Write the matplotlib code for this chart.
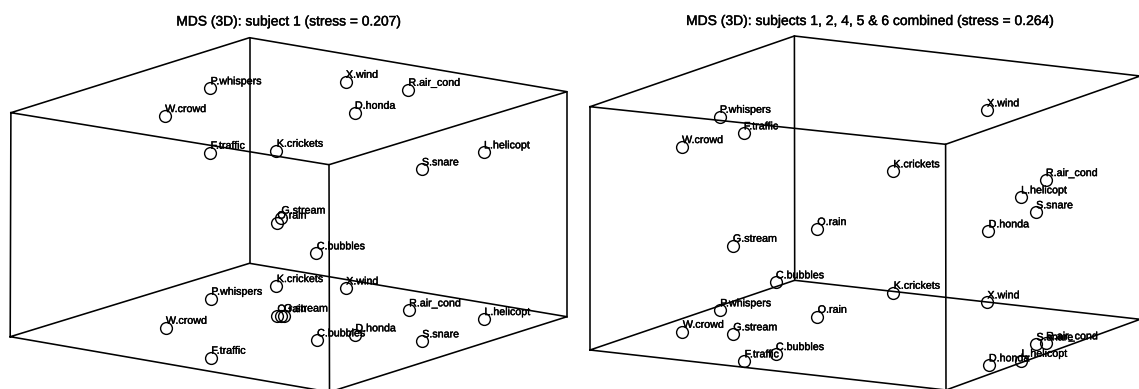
import matplotlib
matplotlib.use('Agg')
import matplotlib.pyplot as plt
import matplotlib.patheffects as pe

plt.rcParams['font.family'] = ['Liberation Sans', 'DejaVu Sans']

# sound labels, same order for the upper and lower point sets
labels = ['P.whispers', 'W.crowd', 'F.traffic', 'K.crickets', 'X.wind', 'R.air_cond',
          'D.honda', 'S.snare', 'L.helicopt', 'C.bubbles', 'O.rain', 'G.stream']

# subject 1, read in picture pixels
s1_upper_x = [210.2, 164.7, 210.2, 276.4, 345.5, 408.0, 354.5, 421.5, 483.6, 316.4, 277.0, 281.0]
s1_upper_y = [88.3, 116.0, 152.7, 150.7, 81.7, 89.7, 112.7, 169.3, 152.3, 253.3, 222.5, 217.5]
s1_lower_x = [210.9, 165.5, 210.9, 276.4, 345.8, 408.7, 355.0, 421.8, 484.0, 316.7, 277.0, 283.5]
s1_lower_y = [298.7, 327.7, 357.7, 286.0, 288.3, 310.3, 335.3, 341.3, 319.0, 340.3, 316.0, 315.5]
s1_extra_x = [280.5]
s1_extra_y = [315.5]
s1_box_top_x = [10.9, 249.5, 567.0, 329.0]
s1_box_top_y = [112.7, 37.7, 91.7, 164.7]
s1_box_bot_x = [10.2, 249.5, 567.0, 329.5]
s1_box_bot_y = [336.7, 263.3, 316.7, 392.0]

# subjects combined
all_upper_x = [719.5, 681.6, 743.5, 892.9, 986.7, 1045.5, 988.2, 1035.7, 1020.7, 775.5, 816.9, 732.5]
all_upper_y = [116.7, 147.0, 133.3, 171.3, 110.3, 180.0, 231.3, 212.3, 197.3, 282.3, 229.0, 245.7]
all_lower_x = [719.8, 682.4, 744.2, 893.3, 987.0, 1045.7, 988.5, 1036.0, 1021.0, 775.5, 817.3, 732.9]
all_lower_y = [310.3, 331.7, 361.3, 292.7, 302.3, 343.3, 365.3, 344.3, 360.7, 354.0, 316.7, 334.3]
all_box_top_x = [590.0, 794.4, 1140.2, 945.6]
all_box_top_y = [106.7, 36.0, 76.0, 144.3]
all_box_bot_x = [590.0, 794.7, 1140.2, 946.0]
all_box_bot_y = [350.0, 280.3, 319.3, 390.0]

s1_title = 'MDS (3D): subject 1 (stress = 0.207)'
all_title = 'MDS (3D): subjects 1, 2, 4, 5 & 6 combined (stress = 0.264)'

# the scan makes the text look a bit heavier
heavy = [pe.withStroke(linewidth=0.3, foreground='black')]


def draw_box(ax, top_x, top_y, bot_x, bot_y):
    ax.plot(top_x + top_x[:1], top_y + top_y[:1], color='black', lw=1.15)
    ax.plot(bot_x + bot_x[:1], bot_y + bot_y[:1], color='black', lw=1.15)
    for i in range(4):
        ax.plot([top_x[i], bot_x[i]], [top_y[i], bot_y[i]], color='black', lw=1.15)


def draw_points(ax, xs, ys):
    ax.plot(xs, ys, 'o', color='black', mfc='none', ms=8.5, mew=1.0, ls='none')
    for name, x, y in zip(labels, xs, ys):
        ax.annotate(name, (x, y), xytext=(0.3, 5), textcoords='offset points',
                    fontsize=7.7, va='center', ha='left', color='black',
                    path_effects=heavy)


fig = plt.figure(figsize=(11.39, 3.89), dpi=100)
ax = fig.add_axes([0, 0, 1, 1])
ax.set_xlim(0, 1139)
ax.set_ylim(389, 0)
ax.axis('off')

draw_box(ax, s1_box_top_x, s1_box_top_y, s1_box_bot_x, s1_box_bot_y)
draw_points(ax, s1_upper_x, s1_upper_y)
draw_points(ax, s1_lower_x, s1_lower_y)
ax.plot(s1_extra_x, s1_extra_y, 'o', color='black', mfc='none', ms=8.5, mew=1.0)

draw_box(ax, all_box_top_x, all_box_top_y, all_box_bot_x, all_box_bot_y)
draw_points(ax, all_upper_x, all_upper_y)
draw_points(ax, all_lower_x, all_lower_y)

ax.text(288, 21.5, s1_title, fontsize=9.95, ha='center', va='center', path_effects=heavy)
ax.text(870, 21, all_title, fontsize=10, ha='center', va='center', path_effects=heavy)

fig.savefig('out.png', dpi=100)
